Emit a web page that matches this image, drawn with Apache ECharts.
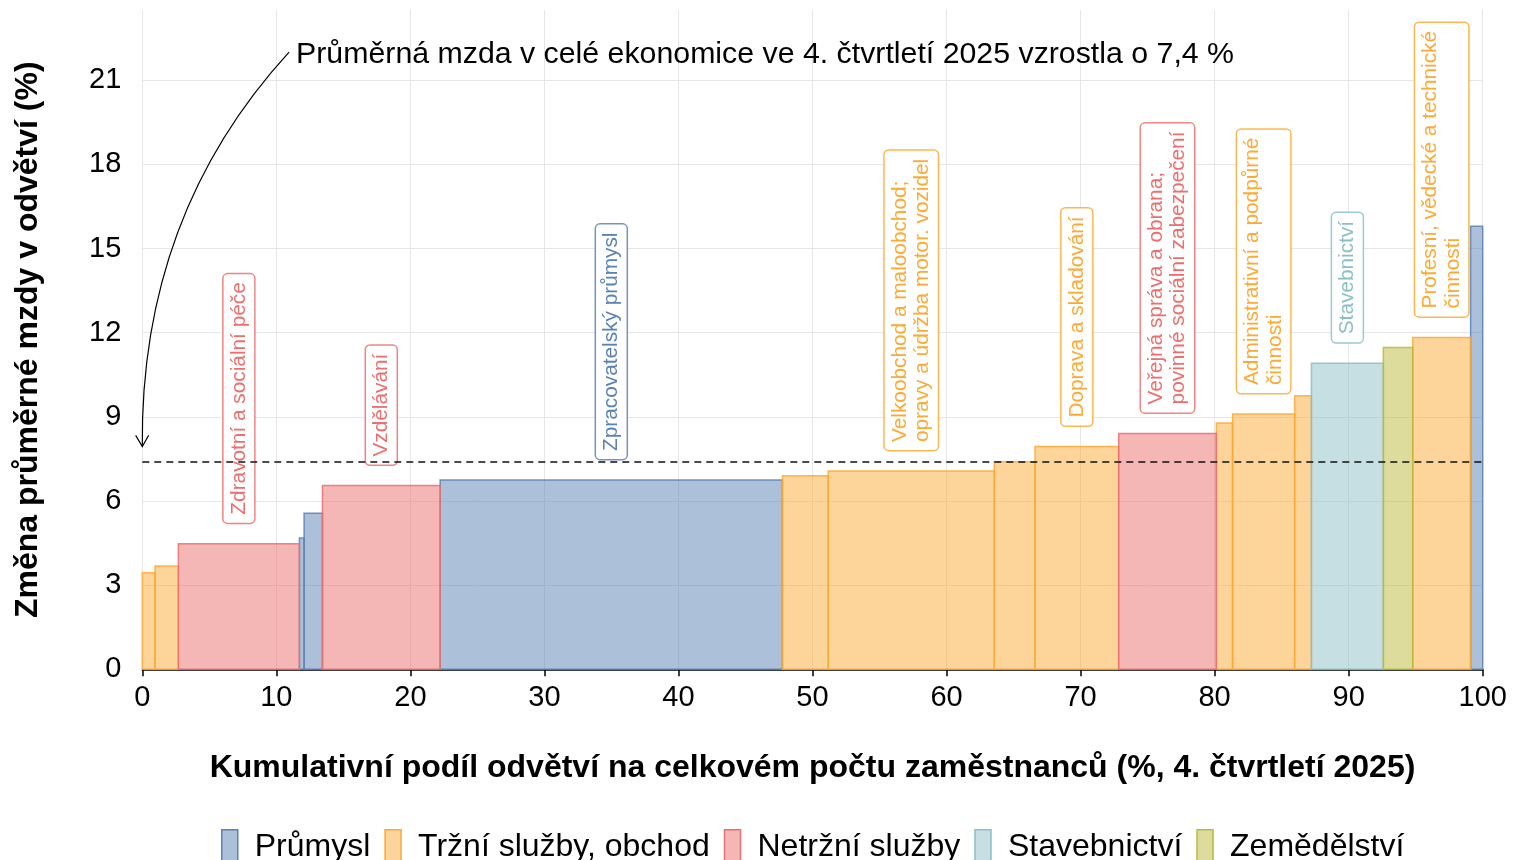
<!DOCTYPE html>
<html>
<head>
<meta charset="utf-8">
<script src="https://cdn.jsdelivr.net/npm/echarts@6/dist/echarts.min.js"></script>
<style>
  html, body { margin: 0; padding: 0; background: #fff; }
  #chart { width: 1516px; height: 860px; }
</style>
</head>
<body>
<div id="chart"></div>
<script>
    const groupNames = ['Průmysl', 'Tržní služby, obchod', 'Netržní služby', 'Stavebnictví', 'Zemědělství'];
    const groupColors = ['#5a82b4', '#fcaa33', '#ec6e6e', '#8bbfc7', '#bdb939'];

    // podíl odvětví na zaměstnancích (%) a změna mzdy (%), seřazeno podle změny
    const shares = [0.95, 1.74, 9.03, 0.35, 1.37, 8.78, 25.54, 3.41, 12.39, 3.04, 6.24, 7.29, 1.21, 4.63, 1.25, 5.37, 2.19, 4.32, 0.90];
    const changes = [3.44, 3.68, 4.48, 4.68, 5.56, 6.55, 6.75, 6.90, 7.07, 7.40, 7.94, 8.41, 8.78, 9.10, 9.75, 10.91, 11.47, 11.83, 15.79];
    const groups = [1, 1, 2, 0, 0, 2, 0, 1, 1, 1, 1, 2, 1, 1, 1, 3, 4, 1, 0];
    const labels = [
        '', '', 'Zdravotní a sociální péče', '', '', 'Vzdělávání', 'Zpracovatelský průmysl', '',
        'Velkoobchod a maloobchod;\nopravy a údržba motor. vozidel', '', 'Doprava a skladování',
        'Veřejná správa a obrana;\npovinné sociální zabezpečení', '', 'Administrativní a podpůrné\nčinnosti', '',
        'Stavebnictví', '', 'Profesní, vědecké a technické\nčinnosti', ''
    ];

    const average = 7.4;
    const noteText = 'Průměrná mzda v celé ekonomice ve 4. čtvrtletí 2025 vzrostla o 7,4 %';
    const noteFrom = [10.95, 22.0];
    const noteCtrl = [-0.17, 16.2];
    const noteTo = [0, 7.94];

    const FONT = '"Liberation Sans", Arial, sans-serif';

    function fade(hex, a) {
        const n = parseInt(hex.slice(1), 16);
        return 'rgba(' + (n >> 16) + ',' + ((n >> 8) & 255) + ',' + (n & 255) + ',' + a + ')';
    }

    let acc = 0;
    const starts = shares.map(s => { const a = acc; acc += s; return a; });

    const series = groupNames.map((name, g) => {
        const items = [];
        const texts = [];
        shares.forEach((s, i) => {
            if (groups[i] === g) {
                items.push([starts[i], starts[i] + s, changes[i]]);
                texts.push(labels[i]);
            }
        });
        const color = groupColors[g];
        return {
            type: 'custom',
            name: name,
            data: items,
            encode: { x: [0, 1], y: 2 },
            itemStyle: { color: fade(color, 0.5), borderColor: color },
            renderItem: function (params, api) {
                const top = api.coord([api.value(0), api.value(2)]);
                const bottom = api.coord([api.value(1), 0]);
                const children = [{
                    type: 'rect',
                    shape: { x: top[0], y: top[1], width: bottom[0] - top[0], height: bottom[1] - top[1] },
                    style: { fill: fade(color, 0.5), stroke: fade(color, 0.85), lineWidth: 1.5 }
                }];
                const txt = texts[params.dataIndex];
                if (txt) {
                    children.push({
                        type: 'text',
                        x: (top[0] + bottom[0]) / 2,
                        y: top[1] - 21,
                        rotation: Math.PI / 2,
                        z2: 10,
                        style: {
                            text: txt,
                            fill: color,
                            font: '20.8px ' + FONT,
                            lineHeight: 22.5,
                            align: 'left',
                            verticalAlign: 'middle',
                            backgroundColor: '#fff',
                            borderColor: fade(color, 0.85),
                            borderWidth: 1.5,
                            borderRadius: 4,
                            padding: [4, 8, 4, 8]
                        }
                    });
                }
                return { type: 'group', children: children };
            }
        };
    });

    series[0].markLine = {
        silent: true,
        symbol: 'none',
        label: { show: false },
        lineStyle: { color: '#111', width: 1.5, type: [7, 5] },
        data: [{ yAxis: average }]
    };

    const chart = echarts.init(document.getElementById('chart'));
    chart.setOption({
        animation: false,
        textStyle: { fontFamily: FONT },
        grid: { left: 142.3, right: 33.3, top: 10.1, bottom: 190.7 },
        legend: {
            left: 221,
            top: 829,
            padding: 0,
            itemWidth: 16,
            itemHeight: 34,
            itemGap: 14,
            textStyle: { fontSize: 32, color: '#000', padding: [0, 0, 0, 12] },
            data: groupNames.map((n, g) => ({
                name: n,
                icon: 'rect',
                itemStyle: { color: fade(groupColors[g], 0.5), borderColor: groupColors[g], borderWidth: 1.5 }
            }))
        },
        xAxis: {
            type: 'value',
            min: 0,
            max: 100,
            interval: 10,
            name: 'Kumulativní podíl odvětví na celkovém počtu zaměstnanců (%, 4. čtvrtletí 2025)',
            nameLocation: 'middle',
            nameGap: 83,
            nameTextStyle: { fontSize: 32, fontWeight: 'bold', color: '#000' },
            axisLine: { lineStyle: { color: '#000', width: 1.5 } },
            axisTick: { length: 7, lineStyle: { color: '#000', width: 1.5 } },
            axisLabel: { fontSize: 29, color: '#000', margin: 14 },
            splitLine: { show: true, lineStyle: { color: '#e6e6e6', width: 1 } }
        },
        yAxis: {
            type: 'value',
            min: 0,
            max: 23.5,
            interval: 3,
            name: 'Změna průměrné mzdy v odvětví (%)',
            nameLocation: 'middle',
            nameGap: 98,
            nameTextStyle: { fontSize: 32, fontWeight: 'bold', color: '#000' },
            axisLine: { show: false },
            axisTick: { show: false },
            axisLabel: { fontSize: 29, color: '#000', margin: 21, showMaxLabel: false },
            splitLine: { show: true, showMaxLine: false, lineStyle: { color: '#e6e6e6', width: 1 } }
        },
        series: series
    });

    // anotace: zakřivená šipka k přerušované čáře průměru
    const p0 = chart.convertToPixel({ gridIndex: 0 }, noteFrom);
    const pc = chart.convertToPixel({ gridIndex: 0 }, noteCtrl);
    const p1 = chart.convertToPixel({ gridIndex: 0 }, noteTo);
    const ang = Math.atan2(p1[1] - pc[1], p1[0] - pc[0]);
    const head = 13, spread = Math.PI / 6;
    const arm = d => [p1[0] - head * Math.cos(ang + d), p1[1] - head * Math.sin(ang + d)];

    chart.setOption({
        graphic: [
            {
                type: 'bezierCurve',
                shape: { x1: p0[0], y1: p0[1], cpx1: pc[0], cpy1: pc[1], x2: p1[0], y2: p1[1] },
                style: { stroke: '#000', lineWidth: 1.2, fill: null }
            },
            {
                type: 'polyline',
                shape: { points: [arm(spread), p1, arm(-spread)] },
                style: { stroke: '#000', lineWidth: 1.2, fill: null }
            },
            {
                type: 'text',
                x: p0[0] + 7,
                y: p0[1] + 2,
                style: { text: noteText, font: '30.3px ' + FONT, fill: '#000', align: 'left', verticalAlign: 'middle' }
            }
        ]
    });
</script>
</body>
</html>
